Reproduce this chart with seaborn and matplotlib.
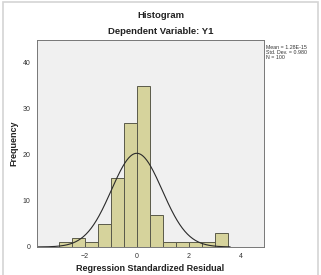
import numpy as np
import pandas as pd
import matplotlib
matplotlib.use("Agg")
import matplotlib.pyplot as plt
import seaborn as sns
from matplotlib.patches import Rectangle

# Data
bin_edges = [-3.0, -2.5, -2.0, -1.5, -1.0, -0.5, 0.0, 0.5, 1.0, 1.5, 2.0, 2.5, 3.0, 3.5]
counts = [1, 2, 1, 5, 15, 27, 35, 7, 1, 1, 1, 1, 3]
mean_val = 1.28e-15
std_dev = 0.980
n_obs = 100
x_ticks = [-2, 0, 2, 4]
y_ticks = [0, 10, 20, 30, 40]

sns.set_style("white")
plt.rcParams['font.family'] = ['Liberation Sans', 'DejaVu Sans']

fig = plt.figure(figsize=(3.21, 2.75), dpi=100)
fig.patch.set_facecolor("white")
fig.patches.append(Rectangle((0.009, -0.05), 0.982, 1.043, transform=fig.transFigure,
                             fill=False, edgecolor="#d4d4d4", linewidth=1.2))

ax = fig.add_axes([0.115, 0.102, 0.707, 0.753])
ax.set_facecolor("#f0f0f0")

centers = [(bin_edges[i] + bin_edges[i + 1]) / 2 for i in range(len(counts))]
df = pd.DataFrame({"x": centers, "w": counts})
sns.histplot(data=df, x="x", weights="w", bins=bin_edges, ax=ax,
             color="#d6d39c", alpha=1.0, edgecolor="#5a5a4a", linewidth=0.7)

bw = bin_edges[1] - bin_edges[0]
xs = np.linspace(-3.85, 3.6, 300)
ys = n_obs * bw / (std_dev * np.sqrt(2 * np.pi)) * np.exp(-0.5 * ((xs - mean_val) / std_dev) ** 2)
sns.lineplot(x=xs, y=ys, ax=ax, color="#2a2a2a", linewidth=0.8)

ax.set_xlim(-3.85, 4.9)
ax.set_ylim(0, 45)
ax.set_xticks(x_ticks)
ax.set_yticks(y_ticks)
ax.tick_params(axis="both", labelsize=5, length=3, width=0.6, color="#555555",
               labelcolor="#333333", direction="out", pad=1.5)
for s in ax.spines.values():
    s.set_color("#777777")
    s.set_linewidth(0.7)

ax.set_xlabel("Regression Standardized Residual", fontsize=6.5, fontweight="bold",
              color="#222222", labelpad=2.5)
ax.set_ylabel("Frequency", fontsize=6.5, fontweight="bold", color="#222222", labelpad=3)

fig.text(0.5, 0.945, "Histogram", ha="center", va="center", fontsize=6.8,
         fontweight="bold", color="#222222")
fig.text(0.5, 0.887, "Dependent Variable: Y1", ha="center", va="center", fontsize=6.8,
         fontweight="bold", color="#222222")
fig.text(0.83, 0.81, "Mean = 1.28E-15\nStd. Dev. = 0.980\nN = 100",
         ha="left", va="center", fontsize=3.8, color="#333333", linespacing=1.05)

fig.savefig("out.png", dpi=100)
